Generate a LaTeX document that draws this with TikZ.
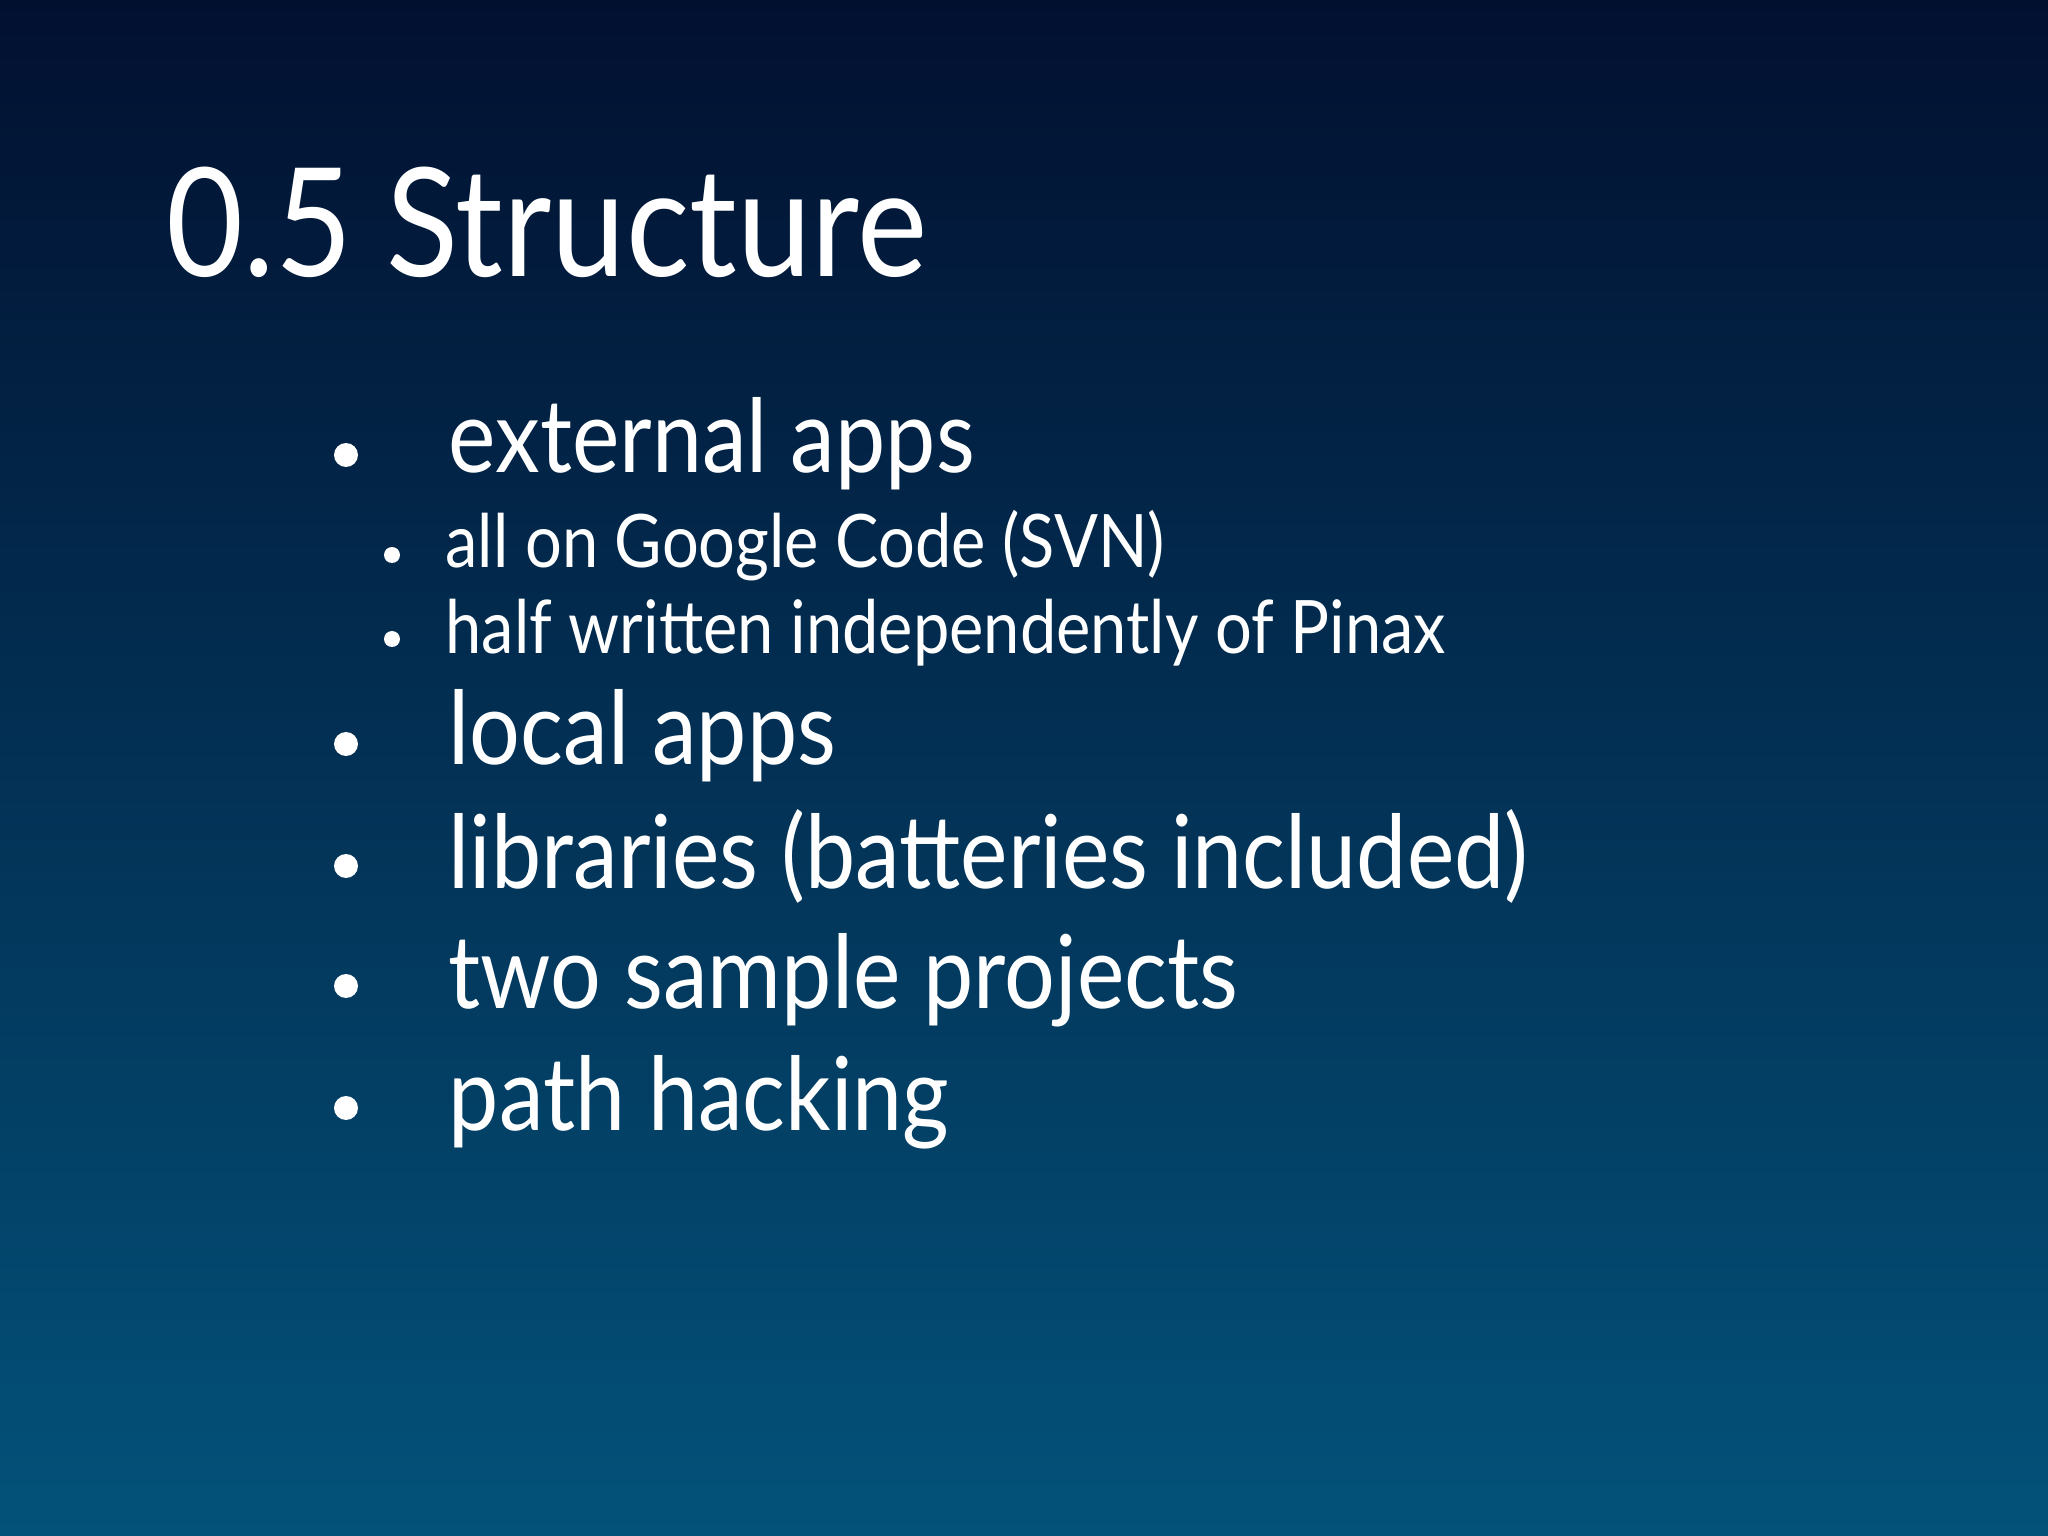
\documentclass[tikz,border=0pt]{standalone}
\usepackage{fontspec}
\setmainfont{Lato}[FakeStretch=0.88]
\begin{document}
\begin{tikzpicture}[x=1cm,y=-1cm,
  big/.style={anchor=base west,inner sep=0pt,text=white,font=\fontsize{29}{34}\selectfont},
  small/.style={anchor=base west,inner sep=0pt,text=white,font=\fontsize{21}{25}\selectfont},
  dot/.style={fill=white,draw=none}]
\shade[top color={rgb,255:red,2;green,16;blue,48},bottom color={rgb,255:red,3;green,82;blue,122}] (0,0) rectangle (20.48,15.36);
\useasboundingbox (0,0) rectangle (20.48,15.36);
\node[anchor=base west,inner sep=0pt,text=white,font=\fontsize{43}{50}\selectfont] (title) at (1.66,2.77) {0.5 Structure};
\node[big] (t1) at (4.48,4.73) {external apps};
\node[small] (s1) at (4.45,5.68) {all on Google Code (SVN)};
\node[small] (s2) at (4.45,6.53) {half written independently of Pinax};
\node[big] (t2) at (4.48,7.64) {local apps};
\node[big] (t3) at (4.48,8.88) {libraries (batteries included)};
\node[big] (t4) at (4.48,10.08) {two sample projects};
\node[big] (t5) at (4.48,11.30) {path hacking};
\foreach \y in {4.55,7.44,8.66,9.86,11.08} \fill[dot] (3.46,\y) circle (0.12);
\foreach \y in {5.55,6.39} \fill[dot] (3.92,\y) circle (0.08);
\end{tikzpicture}
\end{document}
